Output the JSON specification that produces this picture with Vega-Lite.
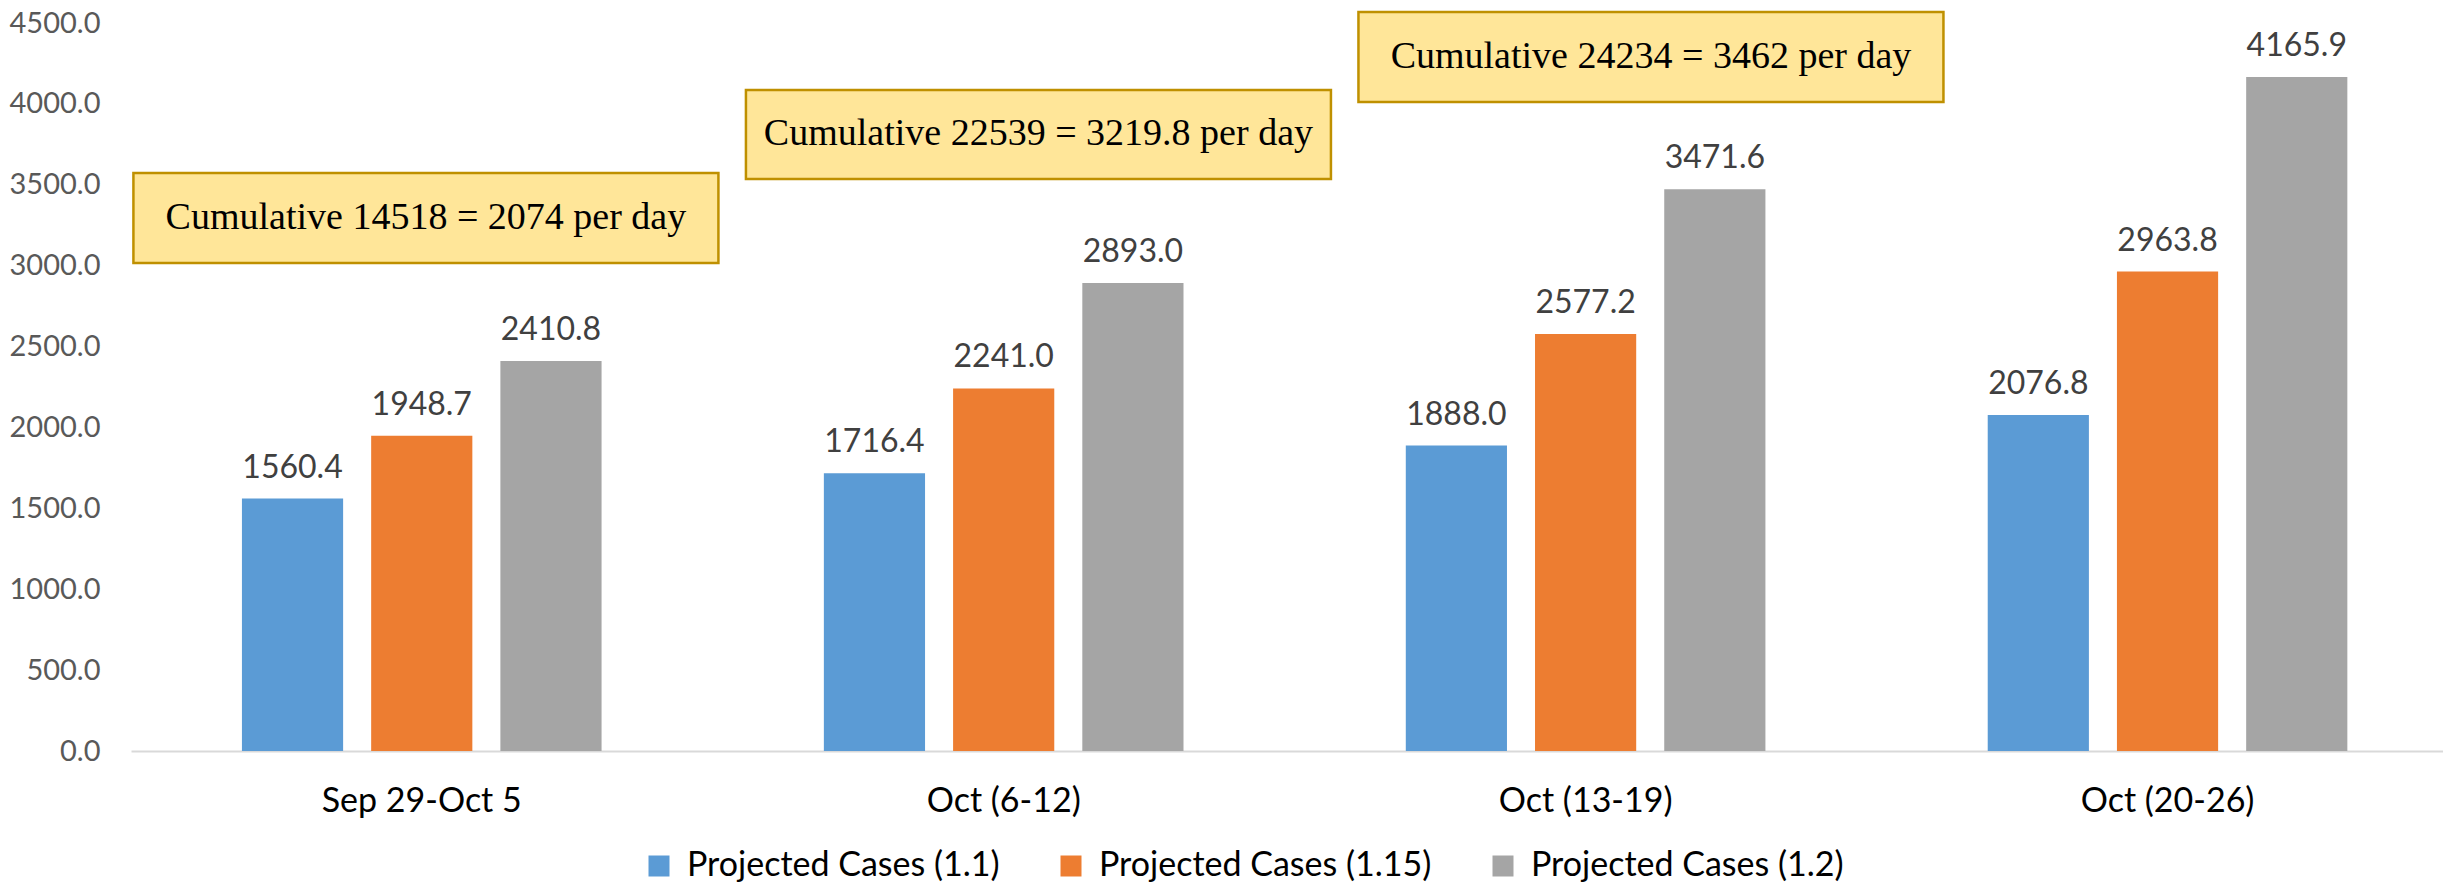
{
  "$schema": "https://vega.github.io/schema/vega-lite/v6.json",
  "width": 2312,
  "height": 728,
  "autosize": {"type": "none"},
  "padding": {"left": 131, "top": 23, "right": 0, "bottom": 134},
  "background": "white",
  "config": {"view": {"stroke": null}, "font": "Lato"},
  "datasets": {
    "cases": [
      {"week": "Sep 29-Oct 5", "series": "Projected Cases (1.1)", "value": 1560.4},
      {"week": "Sep 29-Oct 5", "series": "Projected Cases (1.15)", "value": 1948.7},
      {"week": "Sep 29-Oct 5", "series": "Projected Cases (1.2)", "value": 2410.8},
      {"week": "Oct (6-12)", "series": "Projected Cases (1.1)", "value": 1716.4},
      {"week": "Oct (6-12)", "series": "Projected Cases (1.15)", "value": 2241.0},
      {"week": "Oct (6-12)", "series": "Projected Cases (1.2)", "value": 2893.0},
      {"week": "Oct (13-19)", "series": "Projected Cases (1.1)", "value": 1888.0},
      {"week": "Oct (13-19)", "series": "Projected Cases (1.15)", "value": 2577.2},
      {"week": "Oct (13-19)", "series": "Projected Cases (1.2)", "value": 3471.6},
      {"week": "Oct (20-26)", "series": "Projected Cases (1.1)", "value": 2076.8},
      {"week": "Oct (20-26)", "series": "Projected Cases (1.15)", "value": 2963.8},
      {"week": "Oct (20-26)", "series": "Projected Cases (1.2)", "value": 4165.9}
    ],
    "notes": [
      {"week": "Sep 29-Oct 5", "text": "Cumulative 14518 = 2074 per day", "lo": 3016, "hi": 3573, "mid": 3295},
      {"week": "Oct (6-12)", "text": "Cumulative 22539 = 3219.8 per day", "lo": 3536, "hi": 4086, "mid": 3811},
      {"week": "Oct (13-19)", "text": "Cumulative 24234 = 3462 per day", "lo": 4012, "hi": 4568, "mid": 4290}
    ]
  },
  "layer": [
    {
      "layer": [
        {
          "data": {"name": "cases"},
          "mark": {"type": "bar"},
          "encoding": {
            "x": {
              "field": "week", "type": "nominal", "sort": null,
              "scale": {"paddingInner": 0.382, "paddingOuter": 0.1775, "align": 0.537},
              "axis": {
                "title": null, "labelAngle": 0, "ticks": false,
                "domainColor": "#D9D9D9", "domainWidth": 2,
                "labelFont": "Lato", "labelFontSize": 34, "labelColor": "#000000",
                "labelPadding": 33, "labelLimit": 0
              }
            },
            "xOffset": {
              "field": "series", "type": "nominal", "sort": null,
              "scale": {"paddingInner": 0.217, "paddingOuter": 0}
            },
            "y": {
              "field": "value", "type": "quantitative",
              "scale": {"domain": [0, 4500], "nice": false, "zero": true},
              "axis": {
                "title": null, "grid": false, "ticks": false, "domain": false,
                "values": [0, 500, 1000, 1500, 2000, 2500, 3000, 3500, 4000, 4500],
                "format": ".1f", "labelFont": "Lato", "labelFontSize": 29,
                "labelColor": "#595959", "labelPadding": 31
              }
            },
            "color": {
              "field": "series", "type": "nominal", "sort": null,
              "scale": {"range": ["#5B9BD5", "#ED7D31", "#A5A5A5"]},
              "legend": {
                "title": null, "orient": "none", "direction": "horizontal",
                "legendX": 511, "legendY": 826,
                "symbolType": "square", "symbolSize": 441, "symbolStrokeWidth": 0,
                "labelFont": "Lato", "labelFontSize": 34, "labelColor": "#000000",
                "labelOffset": 11, "columnPadding": 54, "labelLimit": 0
              }
            }
          }
        },
        {
          "data": {"name": "cases"},
          "mark": {"type": "text", "baseline": "alphabetic", "dy": -21, "font": "Lato", "fontSize": 32, "color": "#404040"},
          "encoding": {
            "x": {"field": "week", "type": "nominal", "sort": null},
            "xOffset": {"field": "series", "type": "nominal", "sort": null},
            "y": {"field": "value", "type": "quantitative"},
            "text": {"field": "value", "type": "quantitative", "format": ".1f"}
          }
        }
      ]
    },
    {
      "data": {"name": "notes"},
      "encoding": {
        "x": {
          "field": "week", "type": "nominal", "sort": null,
          "scale": {
            "domain": ["Sep 29-Oct 5", "Oct (6-12)", "Oct (13-19)", "Oct (20-26)"],
            "paddingInner": 0.5, "paddingOuter": 0.1373, "align": 0.843
          },
          "axis": null
        }
      },
      "layer": [
        {
          "mark": {"type": "bar", "width": 585, "fill": "#FFE699", "stroke": "#BF9000", "strokeWidth": 2.5},
          "encoding": {
            "y": {"field": "lo", "type": "quantitative"},
            "y2": {"field": "hi"}
          }
        },
        {
          "mark": {"type": "text", "baseline": "middle", "font": "Liberation Serif", "fontSize": 38, "color": "#000000"},
          "encoding": {
            "y": {"field": "mid", "type": "quantitative"},
            "text": {"field": "text", "type": "nominal"}
          }
        }
      ]
    }
  ],
  "resolve": {"scale": {"x": "independent"}}
}
